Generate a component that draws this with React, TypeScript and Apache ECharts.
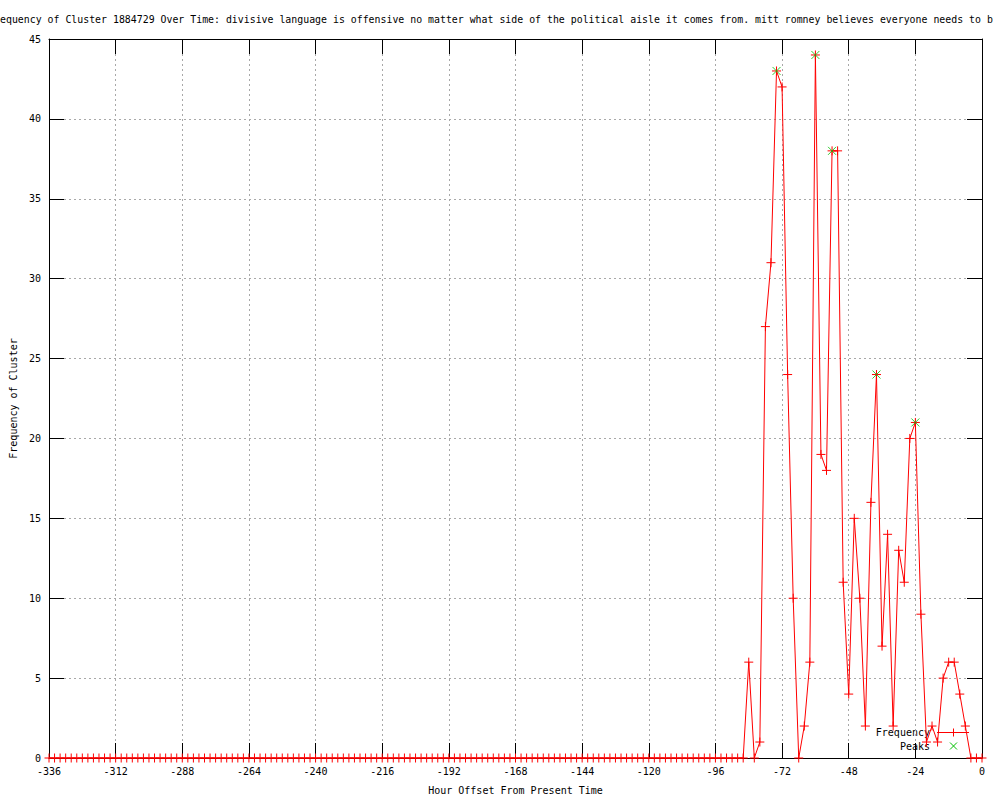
import { useEffect, useRef } from "react";
import * as echarts from "echarts";

const TITLE =
  "equency of Cluster 1884729 Over Time: divisive language is offensive no matter what side of the political aisle it comes from. mitt romney believes everyone needs to b";
const X_NAME = "Hour Offset From Present Time";
const Y_NAME = "Frequency of Cluster";

const HOUR_START = -336;
const HOUR_STEP = 2;

// one value per 2-hour step from -336 to 0
const FREQUENCY = [
  0, 0, 0, 0, 0, 0, 0, 0, 0, 0, 0, 0, 0, 0, 0, 0, 0, 0,
  0, 0, 0, 0, 0, 0, 0, 0, 0, 0, 0, 0, 0, 0, 0, 0, 0, 0,
  0, 0, 0, 0, 0, 0, 0, 0, 0, 0, 0, 0, 0, 0, 0, 0, 0, 0,
  0, 0, 0, 0, 0, 0, 0, 0, 0, 0, 0, 0, 0, 0, 0, 0, 0, 0,
  0, 0, 0, 0, 0, 0, 0, 0, 0, 0, 0, 0, 0, 0, 0, 0, 0, 0,
  0, 0, 0, 0, 0, 0, 0, 0, 0, 0, 0, 0, 0, 0, 0, 0, 0, 0,
  0, 0, 0, 0, 0, 0, 0, 0, 0, 0, 0, 0, 0, 0, 0, 0, 0, 0,
  6, 0, 1, 27, 31, 43, 42, 24, 10, 0, 2, 6, 44, 19, 18, 38, 38, 11,
  4, 15, 10, 2, 16, 24, 7, 14, 2, 13, 11, 20, 21, 9, 1, 2, 1, 5,
  6, 6, 4, 2, 0, 0, 0,
];

const PEAK_HOURS = [-74, -60, -54, -38, -24];
const PEAK_VALUES = [43, 44, 38, 24, 21];

const X_MIN = -336;
const X_MAX = 0;
const X_INTERVAL = 24;
const Y_MIN = 0;
const Y_MAX = 45;
const Y_INTERVAL = 5;

const FONT = "DejaVu Sans Mono";
const RED = "#ff0000";
const GREEN = "#00c000";
const PLUS = "path://M0,4.5L9,4.5M4.5,0L4.5,9";
const CROSS = "path://M0,0L9,9M9,0L0,9";

export default function App() {
  const ref = useRef<HTMLDivElement>(null);

  useEffect(() => {
    if (!ref.current) return;
    const chart = echarts.init(ref.current, null, { renderer: "svg" });

    const freqData = FREQUENCY.map((v, i) => [HOUR_START + i * HOUR_STEP, v]);
    const peakData = PEAK_HOURS.map((h, i) => [h, PEAK_VALUES[i]]);

    const labelStyle = { color: "#000", fontFamily: FONT, fontSize: 10 };
    const tick = { show: true, inside: true, length: 15, lineStyle: { color: "#000", width: 1 } };
    const axisLine = { show: true, onZero: false, lineStyle: { color: "#000", width: 1 } };
    const grid = { left: 49, right: 18, top: 39, bottom: 40 };
    const gridLine = { show: true, lineStyle: { color: "#a8a8a8", type: [2, 3], width: 1 } };

    const legendY1 = 732.5;
    const legendY2 = 746;

    chart.setOption({
      animation: false,
      backgroundColor: "#fff",
      title: {
        text: TITLE,
        left: 0,
        top: 14,
        padding: 0,
        textStyle: { fontFamily: FONT, fontSize: 9.9, fontWeight: "normal", color: "#000" },
      },
      grid: { ...grid, show: false },
      xAxis: [
        {
          type: "value",
          min: X_MIN,
          max: X_MAX,
          interval: X_INTERVAL,
          position: "bottom",
          name: X_NAME,
          nameLocation: "middle",
          nameGap: 27,
          nameTextStyle: labelStyle,
          axisLine,
          axisTick: tick,
          axisLabel: { ...labelStyle, margin: 8 },
          splitLine: gridLine,
        },
        {
          type: "value",
          min: X_MIN,
          max: X_MAX,
          interval: X_INTERVAL,
          position: "top",
          axisLine,
          axisTick: tick,
          axisLabel: { show: false },
          splitLine: { show: false },
        },
      ],
      yAxis: [
        {
          type: "value",
          min: Y_MIN,
          max: Y_MAX,
          interval: Y_INTERVAL,
          position: "left",
          name: Y_NAME,
          nameLocation: "middle",
          nameGap: 30,
          nameTextStyle: labelStyle,
          axisLine,
          axisTick: tick,
          axisLabel: { ...labelStyle, margin: 8 },
          splitLine: gridLine,
        },
        {
          type: "value",
          min: Y_MIN,
          max: Y_MAX,
          interval: Y_INTERVAL,
          position: "right",
          axisLine,
          axisTick: tick,
          axisLabel: { show: false },
          splitLine: { show: false },
        },
      ],
      series: [
        {
          name: "Frequency",
          type: "line",
          data: freqData,
          xAxisIndex: 0,
          yAxisIndex: 0,
          clip: false,
          showAllSymbol: true,
          symbol: PLUS,
          symbolSize: 9,
          lineStyle: { color: RED, width: 1 },
          itemStyle: { color: "none", borderColor: RED, borderWidth: 1 },
          emphasis: { disabled: true },
          z: 3,
        },
        {
          name: "Peaks",
          type: "scatter",
          data: peakData,
          xAxisIndex: 0,
          yAxisIndex: 0,
          clip: false,
          symbol: CROSS,
          symbolSize: 8,
          itemStyle: { color: "none", borderColor: GREEN, borderWidth: 1 },
          emphasis: { disabled: true },
          z: 4,
        },
      ],
      graphic: [
        {
          type: "text",
          x: 930,
          y: legendY1,
          style: { text: "Frequency", fill: "#000", font: `10px "${FONT}"`, align: "right", verticalAlign: "middle" },
        },
        { type: "line", shape: { x1: 937, y1: legendY1, x2: 969, y2: legendY1 }, style: { stroke: RED, lineWidth: 1 } },
        { type: "line", shape: { x1: 949, y1: legendY1, x2: 958, y2: legendY1 }, style: { stroke: RED, lineWidth: 1 } },
        { type: "line", shape: { x1: 953.5, y1: legendY1 - 4, x2: 953.5, y2: legendY1 + 4 }, style: { stroke: RED, lineWidth: 1 } },
        {
          type: "text",
          x: 930,
          y: legendY2,
          style: { text: "Peaks", fill: "#000", font: `10px "${FONT}"`, align: "right", verticalAlign: "middle" },
        },
        { type: "line", shape: { x1: 950, y1: legendY2 - 3.5, x2: 957, y2: legendY2 + 3.5 }, style: { stroke: GREEN, lineWidth: 1 } },
        { type: "line", shape: { x1: 957, y1: legendY2 - 3.5, x2: 950, y2: legendY2 + 3.5 }, style: { stroke: GREEN, lineWidth: 1 } },
      ],
    });

    return () => chart.dispose();
  }, []);

  return (
    <div
      ref={ref}
      style={{ position: "fixed", left: 0, top: 0, width: 1000, height: 800, background: "#fff" }}
    />
  );
}
